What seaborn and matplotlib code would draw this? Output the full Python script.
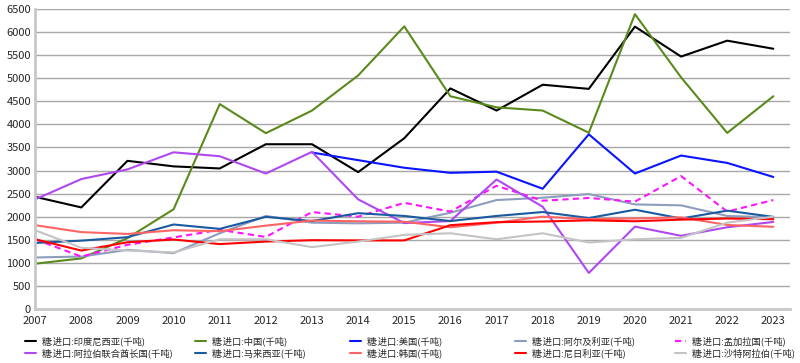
import numpy as np
import pandas as pd
import matplotlib
matplotlib.use("Agg")
import matplotlib.pyplot as plt
import seaborn as sns

years = list(range(2007, 2024))

indonesia = [2430, 2200, 3210, 3090, 3045, 3570, 3570, 2965, 3700, 4780,
             4300, 4860, 4770, 6120, 5470, 5815, 5640]
china = [980, 1095, 1535, 2160, 4440, 3810, 4300, 5060, 6125, 4610,
         4370, 4300, 3820, 6390, 5020, 3815, 4610]
usa = [None, None, None, None, None, None, 3390, 3225, 3060, 2950,
       2975, 2605, 3785, 2935, 3325, 3165, 2860]
algeria = [1115, 1135, 1280, 1210, 1640, 2015, 1870, 1855, 1870, 2085,
           2360, 2410, 2490, 2265, 2245, 2015, 1985]
bangladesh = [1510, 1135, 1390, 1550, 1715, 1560, 2100, 2000, 2300, 2110,
              2670, 2345, 2405, 2325, 2880, 2110, 2360]
uae = [2375, 2815, 3025, 3395, 3310, 2935, 3405, 2375, 1860, 1905,
       2805, 2215, 780, 1785, 1585, 1770, 1885]
malaysia = [1430, 1480, 1555, 1830, 1735, 1995, 1905, 2075, 2015, 1905,
            2015, 2100, 1970, 2150, 1960, 2130, 1995]
korea = [1815, 1665, 1625, 1705, 1685, 1805, 1915, 1900, 1890, 1770,
         1870, 2000, 1945, 1960, 1985, 1820, 1780]
nigeria = [1510, 1265, 1445, 1505, 1405, 1460, 1490, 1485, 1485, 1815,
           1880, 1895, 1920, 1900, 1935, 1960, 1945]
saudi = [1705, 1325, 1265, 1225, 1510, 1510, 1340, 1460, 1605, 1640,
         1510, 1640, 1440, 1510, 1540, 1870, 2000]

names = [
    "糖:进口:印度尼西亚(千吨)", "糖:进口:中国(千吨)", "糖:进口:美国(千吨)",
    "糖:进口:阿尔及利亚(千吨)", "糖:进口:孟加拉国(千吨)",
    "糖:进口:阿拉伯联合酋长国(千吨)", "糖:进口:马来西亚(千吨)",
    "糖:进口:韩国(千吨)", "糖:进口:尼日利亚(千吨)", "糖:进口:沙特阿拉伯(千吨)",
]
series = [indonesia, china, usa, algeria, bangladesh,
          uae, malaysia, korea, nigeria, saudi]
colors = ["#000000", "#5b8a1c", "#0a14ff", "#8e9dbe", "#ff14ff",
          "#b048f0", "#1a5aa0", "#ff6464", "#ff0000", "#c4c4c4"]

sns.set_style("white")
plt.rcParams["font.family"] = ["Noto Sans CJK SC", "DejaVu Sans"]

fig = plt.figure(figsize=(8, 3.63), dpi=100)
ax = fig.add_axes([0.044, 0.149, 0.944, 0.826])

handles = []
for name, vals, col in zip(names, series, colors):
    df = pd.DataFrame({"year": years, "value": vals}).dropna()
    sns.lineplot(data=df, x="year", y="value", color=col, lw=1.5,
                 ax=ax, label=name, legend=False)
    line = ax.lines[-1]
    if "孟加拉国" in name:
        line.set_linestyle((0, (3, 2)))
    handles.append(line)

ax.set_xlim(2007, 2023.37)
ax.set_ylim(0, 6500)
ax.set_yticks(np.arange(0, 6501, 500))
ax.set_xticks(years)
ax.set_xlabel("")
ax.set_ylabel("")
ax.grid(axis="y", color="#a8a8a8", lw=1)
ax.grid(axis="x", visible=False)
ax.tick_params(axis="y", labelsize=8, length=0, pad=3)
ax.tick_params(axis="x", labelsize=8, length=0, pad=5)
for side in ["top", "right"]:
    ax.spines[side].set_visible(False)
for side in ["left", "bottom"]:
    ax.spines[side].set_color("#c8c8c8")
    ax.spines[side].set_linewidth(2)

# reference legend: 5 columns x 2 rows, filled row by row
col_x = [25, 195, 350, 515, 675]
for c, x in enumerate(col_x):
    idx = [c, c + 5]
    fig.legend([handles[i] for i in idx], [names[i] for i in idx],
               loc="upper left", bbox_to_anchor=(x / 800, 1 - 336 / 363),
               frameon=False, fontsize=6.7, handlelength=1.2,
               handletextpad=0.6, labelspacing=0.25,
               borderpad=0, borderaxespad=0)

fig.savefig("out.png", dpi=100)
